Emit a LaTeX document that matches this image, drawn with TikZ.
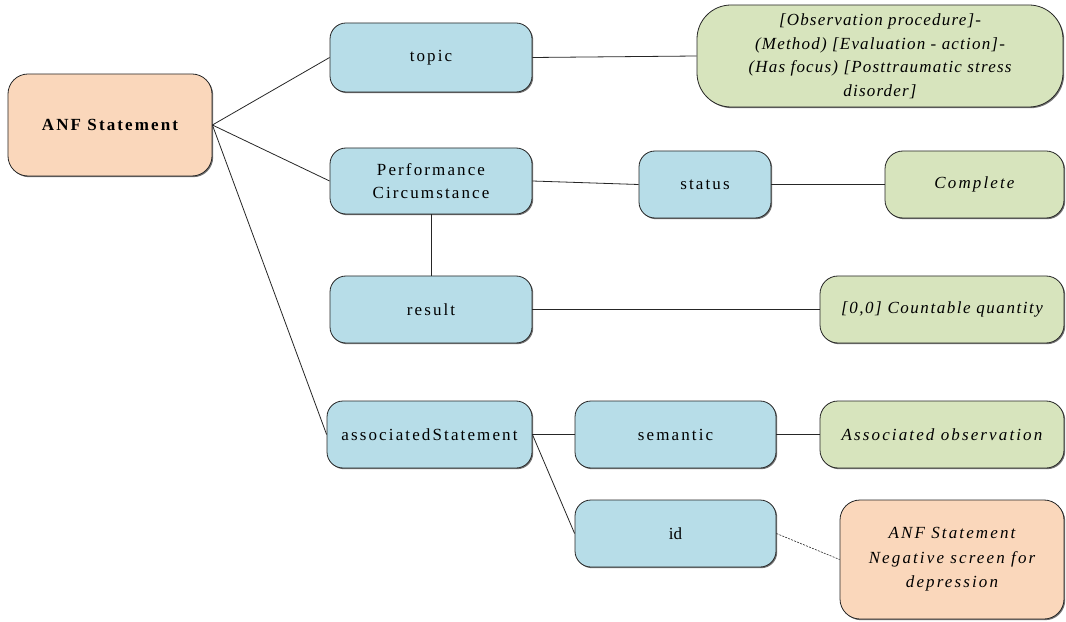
\documentclass[tikz,border=0pt]{standalone}
\usepackage{fontspec}
\setmainfont{Liberation Serif}
\newfontfamily\spaced[LetterSpace=12.5]{Liberation Serif}
\newfontfamily\midspaced[LetterSpace=9]{Liberation Serif}
\newfontfamily\lightspaced[LetterSpace=7]{Liberation Serif}
\usetikzlibrary{shadows}

\definecolor{peach}{HTML}{FAD7BB}
\definecolor{skyblue}{HTML}{B7DDE8}
\definecolor{sage}{HTML}{D7E4BD}

\tikzset{
  box/.style={draw=black!85, line width=0.8bp, align=center, inner sep=0pt,
    rounded corners=#1,
    drop shadow={shadow xshift=1.2bp, shadow yshift=-1.2bp, fill=black!55, opacity=1}},
  box/.default=16bp,
  txt/.style={font=\spaced\fontsize{17bp}{23bp}\selectfont},
  attr/.style={box, fill=skyblue, txt},
  val/.style={box=#1, fill=sage},
  val/.default=18bp,
  link/.style={draw=black!85, line width=0.8bp},
  ref/.style={link, dashed, dash pattern=on 2bp off 1.2bp, line width=0.6bp}
}

\begin{document}
\begin{tikzpicture}[x=1bp, y=-1bp]
  \useasboundingbox (0,0) rectangle (1066,622);

  % root statement
  \node[box=20bp, fill=peach, minimum width=204bp, minimum height=102bp,
        font=\spaced\bfseries\fontsize{17bp}{20bp}\selectfont]
        (anf) at (110,125) {ANF Statement};

  % first-level attributes
  \node[attr, minimum width=202bp, minimum height=69bp] (topic) at (431,57.5) {topic};
  \node[attr, minimum width=202bp, minimum height=66bp] (pc) at (431,181) {Performance\\Circumstance};
  \node[attr, minimum width=202bp, minimum height=67bp] (result) at (431,309.5) {result};
  \node[attr, minimum width=205bp, minimum height=67bp] (assoc) at (429.5,434.5) {associatedStatement};

  % nested attributes
  \node[attr, minimum width=132bp, minimum height=67bp] (status) at (705,184.5) {status};
  \node[attr, minimum width=201bp, minimum height=67bp] (semantic) at (675.5,434.5) {semantic};
  \node[attr, font=\fontsize{17bp}{23bp}\selectfont, minimum width=201bp, minimum height=67bp] (id) at (675.5,533.5) {id};

  % values
  \node[val=34bp, font=\lightspaced\itshape\fontsize{17bp}{23.5bp}\selectfont,
        minimum width=366bp, minimum height=102bp] (obs) at (880,56)
        {[Observation procedure]-\\(Method) [Evaluation - action]-\\(Has focus) [Posttraumatic stress\\disorder]};
  \node[val, font=\spaced\itshape\fontsize{17bp}{23bp}\selectfont,
        minimum width=179bp, minimum height=67bp] (complete) at (974.5,184.5) {Complete};
  \node[val, font=\midspaced\itshape\fontsize{17bp}{23bp}\selectfont,
        minimum width=244bp, minimum height=67bp] (count) at (942,309.5) {[0,0] Countable quantity};
  \node[val, font=\spaced\itshape\fontsize{17bp}{23bp}\selectfont,
        minimum width=244bp, minimum height=67bp] (assocobs) at (942,434.5) {Associated observation};
  \node[box=20bp, fill=peach, font=\spaced\itshape\fontsize{17bp}{24.5bp}\selectfont,
        minimum width=224bp, minimum height=119bp] (neg) at (952,559.5)
        {ANF Statement\\Negative screen for\\depression};

  % connectors
  \draw[link] (anf.east) -- (topic.west);
  \draw[link] (anf.east) -- (pc.west);
  \draw[link] (anf.east) -- (assoc.west);
  \draw[link] (topic.east) -- (obs.west);
  \draw[link] (pc.east) -- (status.west);
  \draw[link] (status.east) -- (complete.west);
  \draw[link] (pc.south) -- (result.north);
  \draw[link] (result.east) -- (count.west);
  \draw[link] (assoc.east) -- (semantic.west);
  \draw[link] (assoc.east) -- (id.west);
  \draw[link] (semantic.east) -- (assocobs.west);
  \draw[ref] (id.east) -- (neg.west);
\end{tikzpicture}
\end{document}
